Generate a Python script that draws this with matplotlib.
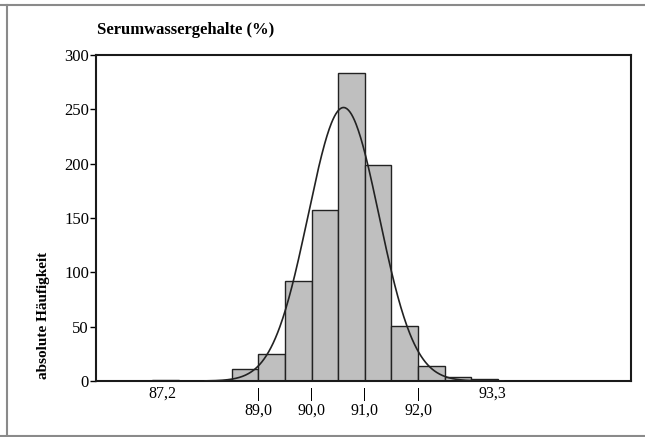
import numpy as np
import matplotlib.pyplot as plt
from matplotlib.lines import Line2D

# histogram of serum water content, bins 0.5 % wide
bin_left = [87.0, 88.5, 89.0, 89.5, 90.0, 90.5, 91.0, 91.5, 92.0, 92.5, 93.0]
counts = [1, 11, 25, 92, 157, 283, 199, 51, 14, 4, 2]
bin_width = 0.5

# fitted normal curve
fit_mean = 90.6
fit_sd = 0.665
n_total = sum(counts)

main_ticks = [89.0, 90.0, 91.0, 92.0]
main_labels = ["89,0", "90,0", "91,0", "92,0"]
extreme_ticks = [87.2, 93.4]
extreme_labels = ["87,2", "93,3"]
y_ticks = [0, 50, 100, 150, 200, 250, 300]

plt.rcParams['font.family'] = ['Liberation Serif', 'DejaVu Serif']

fig = plt.figure(figsize=(6.45, 4.37), dpi=100)
ax = fig.add_axes([96 / 645, 1 - 381 / 437, 535 / 645, 326 / 437])

ax.bar(bin_left, counts, width=bin_width, align='edge',
       color='#bfbfbf', edgecolor='#222222', linewidth=1.0, zorder=2)

xs = np.linspace(88.0, 93.6, 400)
ys = n_total * bin_width / (fit_sd * np.sqrt(2 * np.pi)) * np.exp(-0.5 * ((xs - fit_mean) / fit_sd) ** 2)
ax.plot(xs, ys, color='#222222', linewidth=1.2, zorder=3)

ax.set_xlim(85.95, 96.0)
ax.set_ylim(0, 300)

for s in ax.spines.values():
    s.set_linewidth(1.5)
    s.set_color('#1a1a1a')

ax.set_yticks(y_ticks)
ax.set_yticklabels([str(v) for v in y_ticks], fontsize=12)
ax.tick_params(axis='y', direction='out', length=4, width=1, pad=1)

# x axis: no tick marks, two rows of labels below
ax.set_xticks([])
trans = ax.get_xaxis_transform()
for x, lab in zip(main_ticks, main_labels):
    ax.text(x, -0.04, "|", transform=trans, ha='center', va='center',
            fontsize=10, fontweight='bold')
    ax.text(x, -0.09, lab, transform=trans, ha='center', va='center', fontsize=11.5)
for x, lab in zip(extreme_ticks, extreme_labels):
    ax.text(x, -0.04, lab, transform=trans, ha='center', va='center', fontsize=11.5)

fig.text(97 / 645, 1 - 30 / 437, "Serumwassergehalte (%)", fontsize=12,
         fontweight='bold', ha='left', va='center')
fig.text(44 / 645, 1 - 315 / 437, "absolute Häufigkeit", fontsize=11,
         fontweight='bold', rotation=90, ha='center', va='center')

# outer frame of the scanned figure
frame = dict(color='#8a8a8a', linewidth=1.5, transform=fig.transFigure)
fig.add_artist(Line2D([0, 1], [1 - 5 / 437, 1 - 5 / 437], **frame))
fig.add_artist(Line2D([7 / 645, 7 / 645], [0, 1 - 5 / 437], **frame))
fig.add_artist(Line2D([0, 1], [1 / 437, 1 / 437], **frame))

fig.savefig("out.png", dpi=100)
